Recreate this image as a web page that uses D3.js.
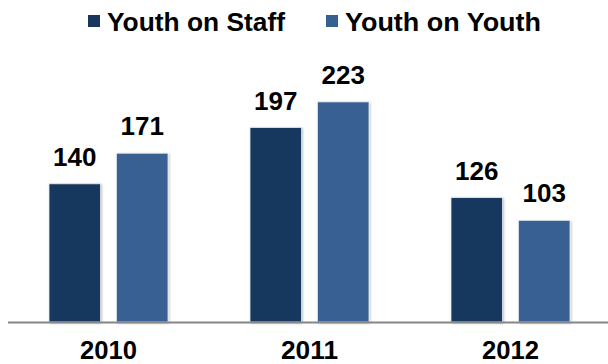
<!DOCTYPE html>
<html>
<head>
<meta charset="utf-8">
<script src="https://cdn.jsdelivr.net/npm/d3@7"></script>
<style>
  html, body { margin: 0; padding: 0; background: #ffffff; }
  svg { display: block; }
  text { font-family: "Liberation Sans", Arial, sans-serif; font-weight: bold; fill: #000; }
</style>
</head>
<body>
<div id="chart"></div>
<script>
const categories = ["2010", "2011", "2012"];
const seriesNames = ["Youth on Staff", "Youth on Youth"];
const youthOnStaff = [140, 197, 126];
const youthOnYouth = [171, 223, 103];
const seriesColors = ["#17375E", "#376092"];

const W = 608, H = 364;
const baseY = 322;

const svg = d3.select("#chart").append("svg").attr("width", W).attr("height", H);

const defs = svg.append("defs");
const f = defs.append("filter").attr("id", "sh").attr("x", "-20%").attr("y", "-20%").attr("width", "140%").attr("height", "140%");
f.append("feDropShadow").attr("dx", 1).attr("dy", 1).attr("stdDeviation", 1.2).attr("flood-color", "#000").attr("flood-opacity", 0.25);

const x0 = d3.scaleBand().domain(categories).range([8, 611]).paddingInner(0.408).paddingOuter(0.204);
const x1 = d3.scaleBand().domain(seriesNames).range([0, x0.bandwidth()]).paddingInner(0.237);
const y = d3.scaleLinear().domain([0, 250]).range([baseY, baseY - 0.987 * 250]);

const rows = categories.map((c, i) => ({ cat: c, vals: [youthOnStaff[i], youthOnYouth[i]] }));

const groups = svg.selectAll("g.grp").data(rows).enter().append("g")
  .attr("class", "grp")
  .attr("transform", d => `translate(${x0(d.cat)},0)`);

groups.selectAll("rect").data(d => d.vals.map((v, j) => ({ s: seriesNames[j], v, j })))
  .enter().append("rect")
  .attr("x", d => x1(d.s))
  .attr("y", d => y(d.v))
  .attr("width", x1.bandwidth())
  .attr("height", d => baseY - y(d.v))
  .attr("fill", d => seriesColors[d.j])
  .attr("stroke", "#e6e9ee")
  .attr("stroke-width", 0.8)
  .attr("filter", "url(#sh)");

groups.selectAll("text.val").data(d => d.vals.map((v, j) => ({ s: seriesNames[j], v, j })))
  .enter().append("text")
  .attr("class", "val")
  .attr("x", d => x1(d.s) + x1.bandwidth() / 2)
  .attr("y", d => y(d.v) - 18)
  .attr("text-anchor", "middle")
  .attr("font-size", 26)
  .text(d => d.v);

// axis
const xAxis = d3.axisBottom(x0).tickSize(0).tickPadding(0);
const ax = svg.append("g").attr("transform", `translate(0,${baseY})`).call(xAxis);
ax.select(".domain").remove();
ax.selectAll("text").attr("font-size", 25).attr("font-family", "Liberation Sans, Arial, sans-serif")
  .attr("font-weight", "bold").attr("fill", "#000").attr("dy", null).attr("y", 37)
  .attr("textLength", 57).attr("lengthAdjust", "spacingAndGlyphs");
svg.append("line").attr("x1", 8).attr("x2", 608).attr("y1", baseY + 0.5).attr("y2", baseY + 0.5)
  .attr("stroke", "#868686").attr("stroke-width", 1.8);

// legend
const legendX = [88, 326];
const legendLen = [178, 196];
const lg = svg.selectAll("g.leg").data(seriesNames).enter().append("g")
  .attr("class", "leg")
  .attr("transform", (d, i) => `translate(${legendX[i]},0)`);
lg.append("rect").attr("x", 0).attr("y", 15).attr("width", 12).attr("height", 12)
  .attr("fill", (d, i) => seriesColors[i]);
lg.append("text").attr("x", 19).attr("y", 31).attr("font-size", 26)
  .attr("textLength", (d, i) => legendLen[i]).attr("lengthAdjust", "spacingAndGlyphs")
  .text(d => d);
</script>
</body>
</html>
